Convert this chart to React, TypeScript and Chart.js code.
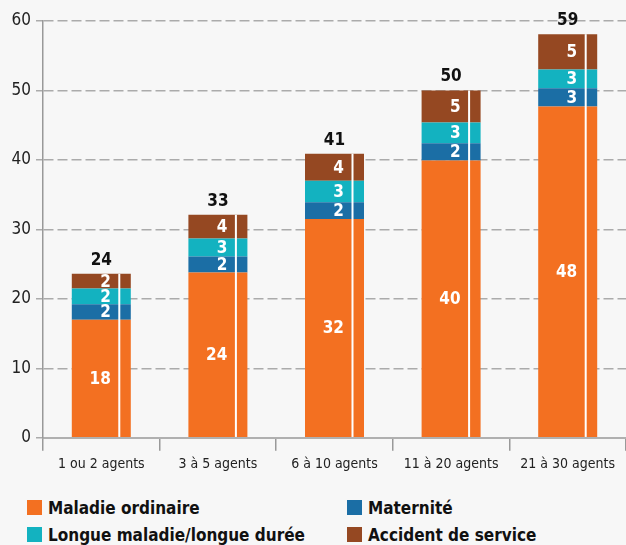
import React, { useEffect, useRef } from "react";
import { Chart, registerables } from "chart.js";

Chart.register(...registerables);

const categories = ["1 ou 2 agents", "3 à 5 agents", "6 à 10 agents", "11 à 20 agents", "21 à 30 agents"];
const maladieOrdinaire = [17.0, 23.8, 31.5, 39.9, 47.7];
const maternite = [2.2, 2.3, 2.4, 2.5, 2.6];
const longueMaladie = [2.3, 2.6, 3.1, 3.0, 2.7];
const accidentService = [2.1, 3.4, 3.9, 4.6, 5.1];

const labelsOrdinaire = ["18", "24", "32", "40", "48"];
const labelsMaternite = ["2", "2", "2", "2", "3"];
const labelsLongue = ["2", "3", "3", "3", "3"];
const labelsAccident = ["2", "4", "4", "5", "5"];
const labelsTotal = ["24", "33", "41", "50", "59"];

const seriesNames = ["Maladie ordinaire", "Maternité", "Longue maladie/longue durée", "Accident de service"];
const seriesColors = ["#f37021", "#1b6ea5", "#13b2c0", "#954822"];

const FONT = "'Liberation Sans Narrow', 'DejaVu Sans Condensed', 'Roboto', sans-serif";

const segmentLabels = [labelsOrdinaire, labelsMaternite, labelsLongue, labelsAccident];

const decorPlugin = {
  id: "decor",
  afterDatasetsDraw(chart: any) {
    const ctx = chart.ctx;
    const n = chart.data.datasets.length;
    const lastMeta = chart.getDatasetMeta(n - 1);
    const firstMeta = chart.getDatasetMeta(0);
    ctx.save();
    // white vertical line through each bar
    lastMeta.data.forEach((bar: any, i: number) => {
      const base = firstMeta.data[i].base;
      const x = bar.x + bar.width * 0.305;
      ctx.fillStyle = "#ffffff";
      ctx.fillRect(x - 1, bar.y, 2, base - bar.y);
    });
    // segment labels
    ctx.font = "bold 17px " + FONT;
    ctx.fillStyle = "#ffffff";
    ctx.textAlign = "right";
    ctx.textBaseline = "middle";
    for (let d = 0; d < n; d++) {
      const meta = chart.getDatasetMeta(d);
      meta.data.forEach((bar: any, i: number) => {
        const yMid = (bar.y + bar.base) / 2;
        ctx.fillText(segmentLabels[d][i], bar.x + 9.5, yMid + 1);
      });
    }
    // totals
    ctx.font = "bold 17px " + FONT;
    ctx.fillStyle = "#111111";
    ctx.textAlign = "center";
    ctx.textBaseline = "alphabetic";
    lastMeta.data.forEach((bar: any, i: number) => {
      ctx.fillText(labelsTotal[i], bar.x, bar.y - 9);
    });
    ctx.restore();
  },
};

export default function App() {
  const ref = useRef<HTMLCanvasElement | null>(null);

  useEffect(() => {
    document.body.style.margin = "0";
    document.body.style.background = "#f7f7f7";
    const datasets = [maladieOrdinaire, maternite, longueMaladie, accidentService].map((data, k) => ({
      label: seriesNames[k],
      data,
      backgroundColor: seriesColors[k],
      borderWidth: 0,
      barPercentage: 0.506,
      categoryPercentage: 1,
    }));
    const chart = new Chart(ref.current as HTMLCanvasElement, {
      type: "bar",
      data: { labels: categories, datasets },
      plugins: [decorPlugin],
      options: {
        responsive: false,
        animation: false,
        layout: { padding: { top: 21, right: 0, left: 0, bottom: 0 } },
        plugins: { legend: { display: false }, tooltip: { enabled: false } },
        scales: {
          x: {
            stacked: true,
            grid: { offset: true, drawOnChartArea: false, tickLength: 13, color: "#999999", lineWidth: 1.5 },
            border: { display: true, color: "#b0b0b0", width: 2 },
            ticks: { color: "#222222", font: { family: FONT, size: 14 }, padding: 5 },
            afterFit: (scale: any) => {
              scale.height = 42.3;
            },
          },
          y: {
            stacked: true,
            min: 0,
            max: 60,
            ticks: { stepSize: 10, color: "#222222", font: { family: FONT, size: 17 }, padding: 5 },
            grid: {
              color: (c: any) => (c.tick && c.tick.value === 0 ? "#b0b0b0" : "#ababab"),
              lineWidth: 1.5,
              tickLength: 7,
              tickColor: "#ababab",
            },
            border: { display: true, color: "#999999", width: 1.5, dash: [10, 4] },
            afterFit: (scale: any) => {
              scale.width = 43;
            },
          },
        },
      },
    });
    return () => chart.destroy();
  }, []);

  const legendItem = (k: number) => (
    <div style={{ display: "flex", alignItems: "center", height: 27 }}>
      <span style={{ display: "inline-block", width: 15, height: 15, background: seriesColors[k], marginRight: 6 }} />
      <span style={{ fontFamily: FONT, fontWeight: "bold", fontSize: 17, color: "#111" }}>{seriesNames[k]}</span>
    </div>
  );

  return (
    <div style={{ position: "relative", width: 626, height: 545, background: "#f7f7f7", overflow: "hidden" }}>
      <canvas ref={ref} width={626} height={480} style={{ display: "block" }} />
      <div style={{ position: "absolute", left: 27, top: 494, display: "grid", gridTemplateColumns: "320px 280px" }}>
        {legendItem(0)}
        {legendItem(1)}
        {legendItem(2)}
        {legendItem(3)}
      </div>
    </div>
  );
}
